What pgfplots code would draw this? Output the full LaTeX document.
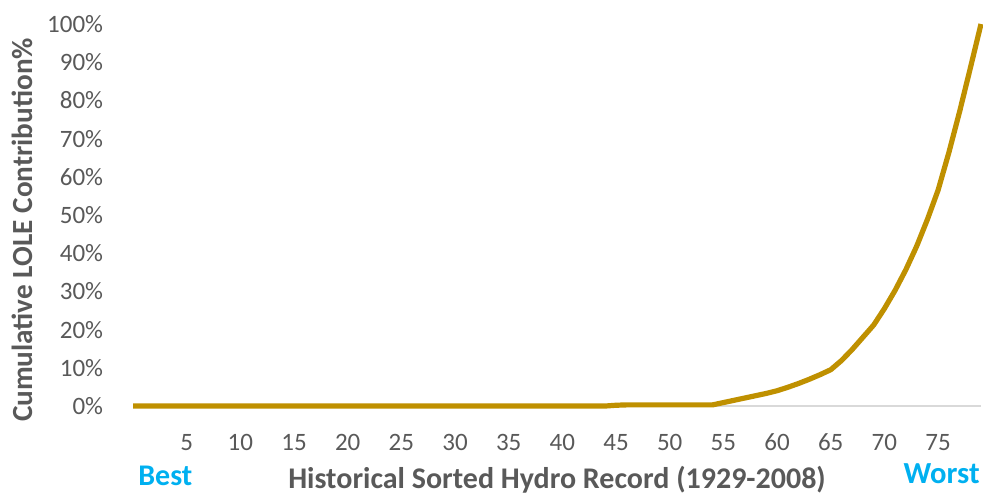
\documentclass[border=0pt]{standalone}
\usepackage{fontspec}
\setmainfont{Carlito}
\usepackage{pgfplots}
\pgfplotsset{compat=1.18}

\definecolor{lolegold}{RGB}{191,144,0}
\definecolor{txtgray}{RGB}{89,89,89}
\definecolor{axgray}{RGB}{217,217,217}
\definecolor{tagblue}{RGB}{0,176,240}

\begin{document}
\begin{tikzpicture}
\begin{axis}[
    name=ax,
    scale only axis,
    width=424pt, height=191pt,
    xmin=0, xmax=79,
    ymin=0, ymax=100,
    clip=false,
    axis x line*=bottom,
    axis y line*=left,
    x axis line style={draw=axgray, line width=0.8pt},
    y axis line style={draw=none},
    major tick length=0pt,
    xtick={5,10,...,75},
    ytick={0,10,...,100},
    /pgf/number format/assume math mode=true,
    yticklabel={\pgfmathprintnumber{\tick}\%},
    tick label style={font=\fontsize{12.5}{14}\selectfont, text=txtgray},
    yticklabel style={anchor=east, inner sep=0pt, xshift=-14.75pt},
    xticklabel style={anchor=base, inner sep=0pt, yshift=-22pt},
    xlabel={Historical Sorted Hydro Record (1929-2008)},
    ylabel={Cumulative LOLE Contribution\%},
    every axis x label/.style={at={(axis description cs:0.5,0)}, anchor=base, inner sep=0pt, yshift=-41pt,
        font=\fontsize{15}{17}\selectfont\bfseries, text=txtgray},
    every axis y label/.style={at={(axis description cs:-0.13,0.4607)}, anchor=center, rotate=90,
        font=\fontsize{14.6}{17}\selectfont\bfseries, text=txtgray},
]
\addplot[color=lolegold, line width=2.6pt, line join=round] coordinates {
(0,0) (1,0) (2,0) (3,0) (4,0) (5,0) (6,0) (7,0) (8,0) (9,0)
(10,0) (11,0) (12,0) (13,0) (14,0) (15,0) (16,0) (17,0) (18,0) (19,0)
(20,0) (21,0) (22,0) (23,0) (24,0) (25,0) (26,0) (27,0) (28,0) (29,0)
(30,0) (31,0) (32,0) (33,0) (34,0) (35,0) (36,0) (37,0) (38,0) (39,0)
(40,0) (41,0) (42,0) (43,0) (44,0) (45,0.2) (46,0.3) (47,0.3) (48,0.3) (49,0.3)
(50,0.3) (51,0.3) (52,0.3) (53,0.3) (54,0.3) (55,0.9) (56,1.5) (57,2.1) (58,2.7) (59,3.3)
(60,4.0) (61,4.9) (62,5.9) (63,7.0) (64,8.2) (65,9.5) (66,11.9) (67,14.8) (68,18.0) (69,21.2)
(70,25.5) (71,30.3) (72,35.7) (73,41.8) (74,48.8) (75,56.5) (76,66.3) (77,77.0) (78,88.4) (79,100)
};
\node[anchor=base west, inner sep=0pt, font=\fontsize{15}{17}\selectfont\bfseries, text=tagblue]
  at ([xshift=2.5pt,yshift=-39.5pt]rel axis cs:0,0) {Best};
\node[anchor=base east, inner sep=0pt, font=\fontsize{15.3}{17}\selectfont\bfseries, text=tagblue]
  at ([xshift=-0.5pt,yshift=-38.5pt]rel axis cs:1,0) {Worst};
\end{axis}
\pgfresetboundingbox
\path[use as bounding box] ([xshift=-66.5pt,yshift=-44pt]ax.south west) rectangle ([xshift=1pt,yshift=12pt]ax.north east);
\end{tikzpicture}
\end{document}
